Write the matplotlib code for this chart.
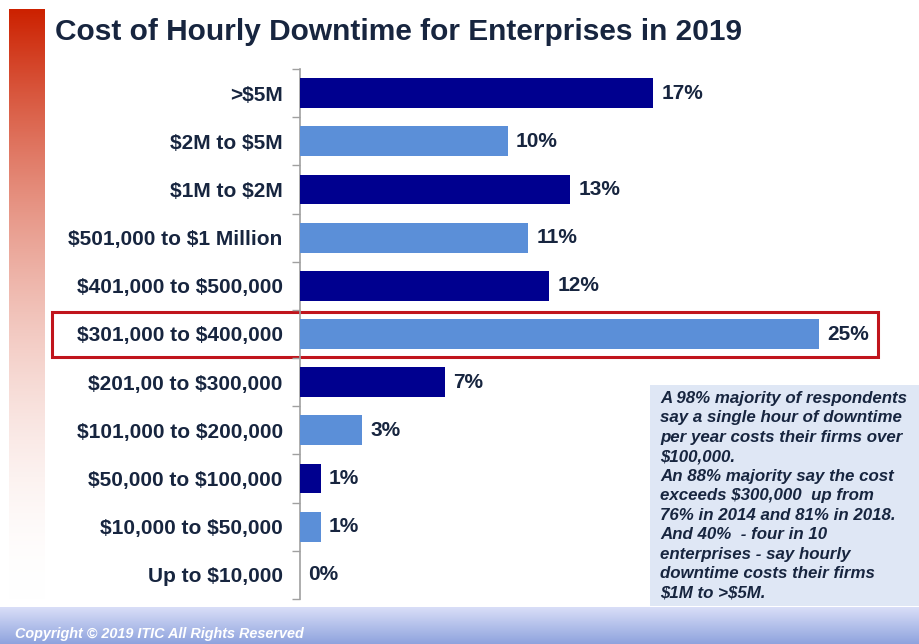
import numpy as np
import matplotlib
matplotlib.use("Agg")
import matplotlib.pyplot as plt
from matplotlib.patches import Rectangle

categories = [">$5M", "$2M to $5M", "$1M to $2M", "$501,000 to $1 Million",
              "$401,000 to $500,000", "$301,000 to $400,000", "$201,00 to $300,000",
              "$101,000 to $200,000", "$50,000 to $100,000", "$10,000 to $50,000",
              "Up to $10,000"]
values = [17, 10, 13, 11, 12, 25, 7, 3, 1, 1, 0]
value_labels = ["17%", "10%", "13%", "11%", "12%", "25%", "7%", "3%", "1%", "1%", "0%"]
highlight_index = 5
title = "Cost of Hourly Downtime for Enterprises in 2019"
note = ("A 98% majority of respondents\n"
        "say a single hour of downtime\n"
        "per year costs their firms over\n"
        "$100,000.\n"
        "An 88% majority say the cost\n"
        "exceeds $300,000  up from\n"
        "76% in 2014 and 81% in 2018.\n"
        "And 40%  - four in 10\n"
        "enterprises - say hourly\n"
        "downtime costs their firms\n"
        "$1M to >$5M.")
copyright_text = "Copyright \u00a9 2019 ITIC All Rights Reserved"

W, H = 920, 644
DARK = "#00008f"
LIGHT = "#5b8fd8"
NAVY_TXT = "#17253f"
plt.rcParams['font.family'] = ['Liberation Sans', 'DejaVu Sans']
plt.rcParams['text.parse_math'] = False

fig = plt.figure(figsize=(W / 100, H / 100), dpi=100)
fig.patch.set_facecolor("white")

def fx(px):
    return px / W

def fy(py):
    return 1 - py / H

# background axes in pixel coordinates
bg = fig.add_axes([0, 0, 1, 1])
bg.set_xlim(0, W)
bg.set_ylim(H, 0)
bg.axis("off")

# red gradient bar on the left
t = np.linspace(0, 1, 300)[:, None]
s = 1 - (1 - t) ** 1.8
red = np.array([0.80, 0.13, 0.0])
grad = red[None, None, :] * (1 - s[..., None]) + s[..., None] * np.array([1.0, 1.0, 1.0])
bg.imshow(grad, extent=[9, 45, 600, 9], aspect="auto", zorder=0)

# footer gradient
tf = np.linspace(0, 1, 50)[:, None]
top_c = np.array([0.85, 0.87, 0.97])
bot_c = np.array([0.56, 0.64, 0.87])
fgrad = top_c[None, None, :] * (1 - tf[..., None]) + bot_c[None, None, :] * tf[..., None]
fgrad = np.repeat(fgrad, 2, axis=1)
bg.imshow(fgrad, extent=[0, W, H, 607], aspect="auto", zorder=0)
bg.set_xlim(0, W)
bg.set_ylim(H, 0)
bg.text(15, 634, copyright_text, color="white", fontsize=10.4, fontweight="bold",
        fontstyle="italic", va="center", ha="left")

# note box
bg.add_patch(Rectangle((650, 385), 270, 221, facecolor="#dfe7f5", edgecolor="none", zorder=1))
bg.text(660, 391, note, fontsize=12.2, fontweight="bold", fontstyle="italic",
        color=NAVY_TXT, va="top", ha="left", linespacing=1.37, zorder=2)

# title
bg.text(55, 32, title, fontsize=21.5, fontweight="bold", color=NAVY_TXT,
        va="center", ha="left")

# highlight rectangle
bg.add_patch(Rectangle((52, 312), 826, 45, facecolor="none", edgecolor="#c0141c",
                       linewidth=2.2, zorder=5))

# main bar axes
ax_top, ax_bot = 69, 599
ax = fig.add_axes([fx(300), fy(ax_bot), fx(612), (ax_bot - ax_top) / H])
ax.set_facecolor("none")
n = len(categories)
ypos = np.arange(n)
colors = [DARK if i % 2 == 0 else LIGHT for i in range(n)]
ax.barh(ypos, values, height=0.62, color=colors, zorder=3)
ax.set_xlim(0, 612 / 20.76)
ax.set_ylim(n - 0.5, -0.5)
for sp in ["top", "right", "bottom"]:
    ax.spines[sp].set_visible(False)
ax.spines["left"].set_color("#a0a0a0")
ax.spines["left"].set_linewidth(1.2)
ax.set_xticks([])
ax.set_yticks(ypos)
ax.set_yticklabels(categories, fontsize=15, fontweight="bold", color=NAVY_TXT)
ax.tick_params(axis="y", which="major", length=0, pad=12.5)
ax.set_yticks(np.arange(n + 1) - 0.5, minor=True)
ax.tick_params(axis="y", which="minor", length=6, color="#a0a0a0", width=1)
for i, (v, lab) in enumerate(zip(values, value_labels)):
    ax.text(v + 0.4, i, lab, fontsize=15, fontweight="bold", color=NAVY_TXT,
            va="center", ha="left", zorder=4)

fig.savefig("out.png", dpi=100)
